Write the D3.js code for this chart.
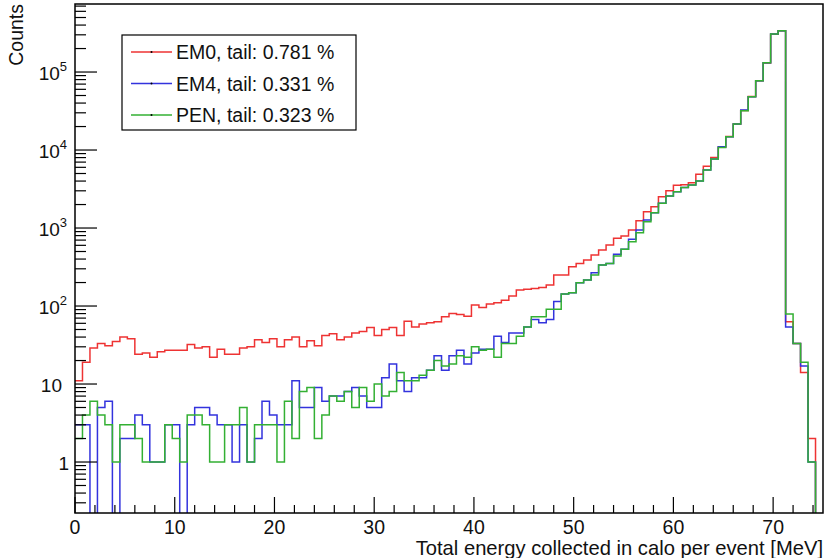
<!DOCTYPE html>
<html>
<head>
<meta charset="utf-8">
<script src="https://cdn.jsdelivr.net/npm/d3@7"></script>
<style>
    body { margin: 0; background: #fff; }
    svg { display: block; font-family: "Liberation Sans", Arial, sans-serif; }
</style>
</head>
<body>
<svg id="chart" width="826" height="558"></svg>
<script>
// histogram: 100 bins of 0.75 MeV from 0 to 75
const binWidth = 0.75;

const em0 = [
    11, 19, 29, 33, 31, 35, 40, 38, 24, 25,
    22, 26, 27, 27, 27, 32, 29, 30, 22, 28,
    24, 24, 29, 30, 37, 34, 38, 30, 37, 40,
    30, 36, 31, 42, 44, 37, 40, 45, 47, 53,
    42, 50, 53, 42, 64, 54, 59, 61, 63, 73,
    80, 78, 74, 103, 96, 106, 110, 119, 134, 160,
    164, 168, 173, 186, 250, 250, 319, 352, 389, 451,
    522, 606, 738, 789, 942, 1242, 1619, 1877, 2520, 3010,
    3527, 3600, 3800, 4900, 6200, 8000, 10900, 14900, 21600, 32000,
    48500, 77500, 131000, 305000, 338000, 63, 33, 14, 2, 0
];

const em4 = [
    3, 3, 0, 5, 6, 0, 2, 2, 4, 3,
    1, 1, 3, 3, 0, 3, 5, 5, 4, 3,
    3, 1, 3, 1, 2, 6, 4, 3, 3, 11,
    5, 5, 9, 6, 7, 7, 8, 9, 7, 5,
    5, 12, 18, 11, 8, 12, 12, 15, 23, 15,
    23, 27, 18, 25, 28, 28, 41, 34, 45, 45,
    54, 67, 61, 67, 114, 143, 148, 199, 215, 267,
    335, 352, 460, 533, 716, 943, 1267, 1573, 2071, 2570,
    2922, 3300, 3550, 4020, 5540, 7700, 11000, 14800, 21500, 32500,
    48300, 77400, 131700, 307000, 339000, 54, 33, 17, 1, 0
];

const pen = [
    2, 4, 6, 4, 3, 1, 3, 3, 2, 1,
    1, 1, 3, 2, 1, 4, 4, 3, 1, 1,
    3, 3, 5, 1, 3, 3, 3, 1, 6, 2,
    8, 9, 2, 4, 7, 6, 8, 5, 9, 6,
    10, 7, 8, 14, 11, 11, 13, 15, 20, 17,
    18, 23, 22, 30, 27, 28, 22, 33, 33, 41,
    54, 73, 73, 91, 91, 143, 148, 199, 215, 250,
    335, 352, 438, 533, 668, 871, 1205, 1573, 2071, 2570,
    2922, 3300, 3550, 4020, 5540, 7700, 10800, 14800, 21500, 31900,
    48300, 77400, 131700, 307000, 339000, 79, 33, 19, 1, 0
];

const seriesNames = ["EM0, tail: 0.781 %", "EM4, tail: 0.331 %", "PEN, tail: 0.323 %"];
const seriesColors = ["#ee3333", "#3333dd", "#33b033"];
const xTicks = [0, 10, 20, 30, 40, 50, 60, 70];
const yTickExp = [0, 1, 2, 3, 4, 5];

const margin = {top: 4, right: 3, bottom: 45, left: 75};
const width = 826 - margin.left - margin.right;
const height = 558 - margin.top - margin.bottom;

const svg = d3.select("#chart");
const chart = svg.append("g")
    .attr("transform", `translate(${margin.left}, ${margin.top})`);

const xscale = d3.scaleLinear()
    .domain([0, 75])
    .range([0, width]);

const ymin = 0.222;
const yscale = d3.scaleLog()
    .domain([ymin, 7.45e5])
    .range([height, 0]);

chart.append("clipPath")
    .attr("id", "plotclip")
    .append("rect")
    .attr("width", width)
    .attr("height", height);

// step outline like ROOT "HIST"
const step = d3.line()
    .x(d => xscale(d[0]))
    .y(d => yscale(Math.max(d[1], ymin * 0.5)))
    .curve(d3.curveStepAfter);

[em0, em4, pen].forEach((vals, k) => {
    let pts = vals.map((v, i) => [i * binWidth, v]);
    pts.push([vals.length * binWidth, vals[vals.length - 1]]);
    chart.append("path")
        .attr("clip-path", "url(#plotclip)")
        .attr("d", step(pts))
        .attr("fill", "none")
        .attr("stroke", seriesColors[k])
        .attr("stroke-width", 1.5);
});

// x axis ticks
chart.selectAll(".xtick")
    .data(d3.range(0, 75, 2))
    .join("line")
    .attr("x1", d => xscale(d))
    .attr("x2", d => xscale(d))
    .attr("y1", height)
    .attr("y2", d => height - (d % 10 === 0 ? 16 : 8))
    .attr("stroke", "#000")
    .attr("stroke-width", 1.2);

chart.selectAll(".xlabel")
    .data(xTicks)
    .join("text")
    .attr("x", d => xscale(d))
    .attr("y", height + 21)
    .attr("text-anchor", "middle")
    .attr("font-size", 19.5)
    .attr("fill", "#111")
    .text(d => d);

// y axis ticks (log)
let minor = [];
for (let e = -1; e <= 5; e++) {
    for (let m = 2; m <= 9; m++) {
        let v = m * Math.pow(10, e);
        if (v > ymin && v < 7.45e5) minor.push(v);
    }
}
chart.selectAll(".yminor")
    .data(minor)
    .join("line")
    .attr("x1", 0)
    .attr("x2", 11)
    .attr("y1", d => yscale(d))
    .attr("y2", d => yscale(d))
    .attr("stroke", "#000")
    .attr("stroke-width", 1.2);

chart.selectAll(".ymajor")
    .data(yTickExp)
    .join("line")
    .attr("x1", 0)
    .attr("x2", 22)
    .attr("y1", d => yscale(Math.pow(10, d)))
    .attr("y2", d => yscale(Math.pow(10, d)))
    .attr("stroke", "#000")
    .attr("stroke-width", 1.2);

let ylabels = chart.selectAll(".ylabel")
    .data(yTickExp)
    .join("text")
    .attr("x", d => d === 0 ? -6 : (d === 1 ? -13 : -8))
    .attr("y", d => yscale(Math.pow(10, d)) + 8)
    .attr("text-anchor", "end")
    .attr("font-size", 19)
    .attr("fill", "#111");

ylabels.filter(d => d <= 1).text(d => d === 0 ? "1" : "10");
ylabels.filter(d => d > 1).each(function(d) {
    let t = d3.select(this);
    t.append("tspan").text("10");
    t.append("tspan")
        .attr("font-size", 13)
        .attr("dy", -9)
        .text(d);
});

// frame
chart.append("rect")
    .attr("width", width)
    .attr("height", height)
    .attr("fill", "none")
    .attr("stroke", "#000")
    .attr("stroke-width", 1.5);

// axis titles
svg.append("text")
    .attr("x", 823)
    .attr("y", 555)
    .attr("text-anchor", "end")
    .attr("font-size", 20.2)
    .attr("fill", "#111")
    .text("Total energy collected in calo per event [MeV]");

svg.append("text")
    .attr("transform", "translate(23, 4) rotate(-90)")
    .attr("text-anchor", "end")
    .attr("font-size", 19.5)
    .attr("fill", "#111")
    .text("Counts");

// legend
const legend = svg.append("g");
legend.append("rect")
    .attr("x", 122)
    .attr("y", 35)
    .attr("width", 234)
    .attr("height", 95)
    .attr("fill", "#fff")
    .attr("stroke", "#000")
    .attr("stroke-width", 1.2);

const rows = legend.selectAll(".entry")
    .data(seriesNames)
    .join("g")
    .attr("transform", (d, i) => `translate(0, ${52 + i * 31.5})`);

rows.append("line")
    .attr("x1", 131)
    .attr("x2", 172)
    .attr("stroke", (d, i) => seriesColors[i])
    .attr("stroke-width", 1.5);

rows.append("circle")
    .attr("cx", 151.5)
    .attr("r", 1)
    .attr("fill", "#000");

rows.append("text")
    .attr("x", 176)
    .attr("y", 7)
    .attr("font-size", 19.5)
    .attr("fill", "#111")
    .text(d => d);
</script>
</body>
</html>
